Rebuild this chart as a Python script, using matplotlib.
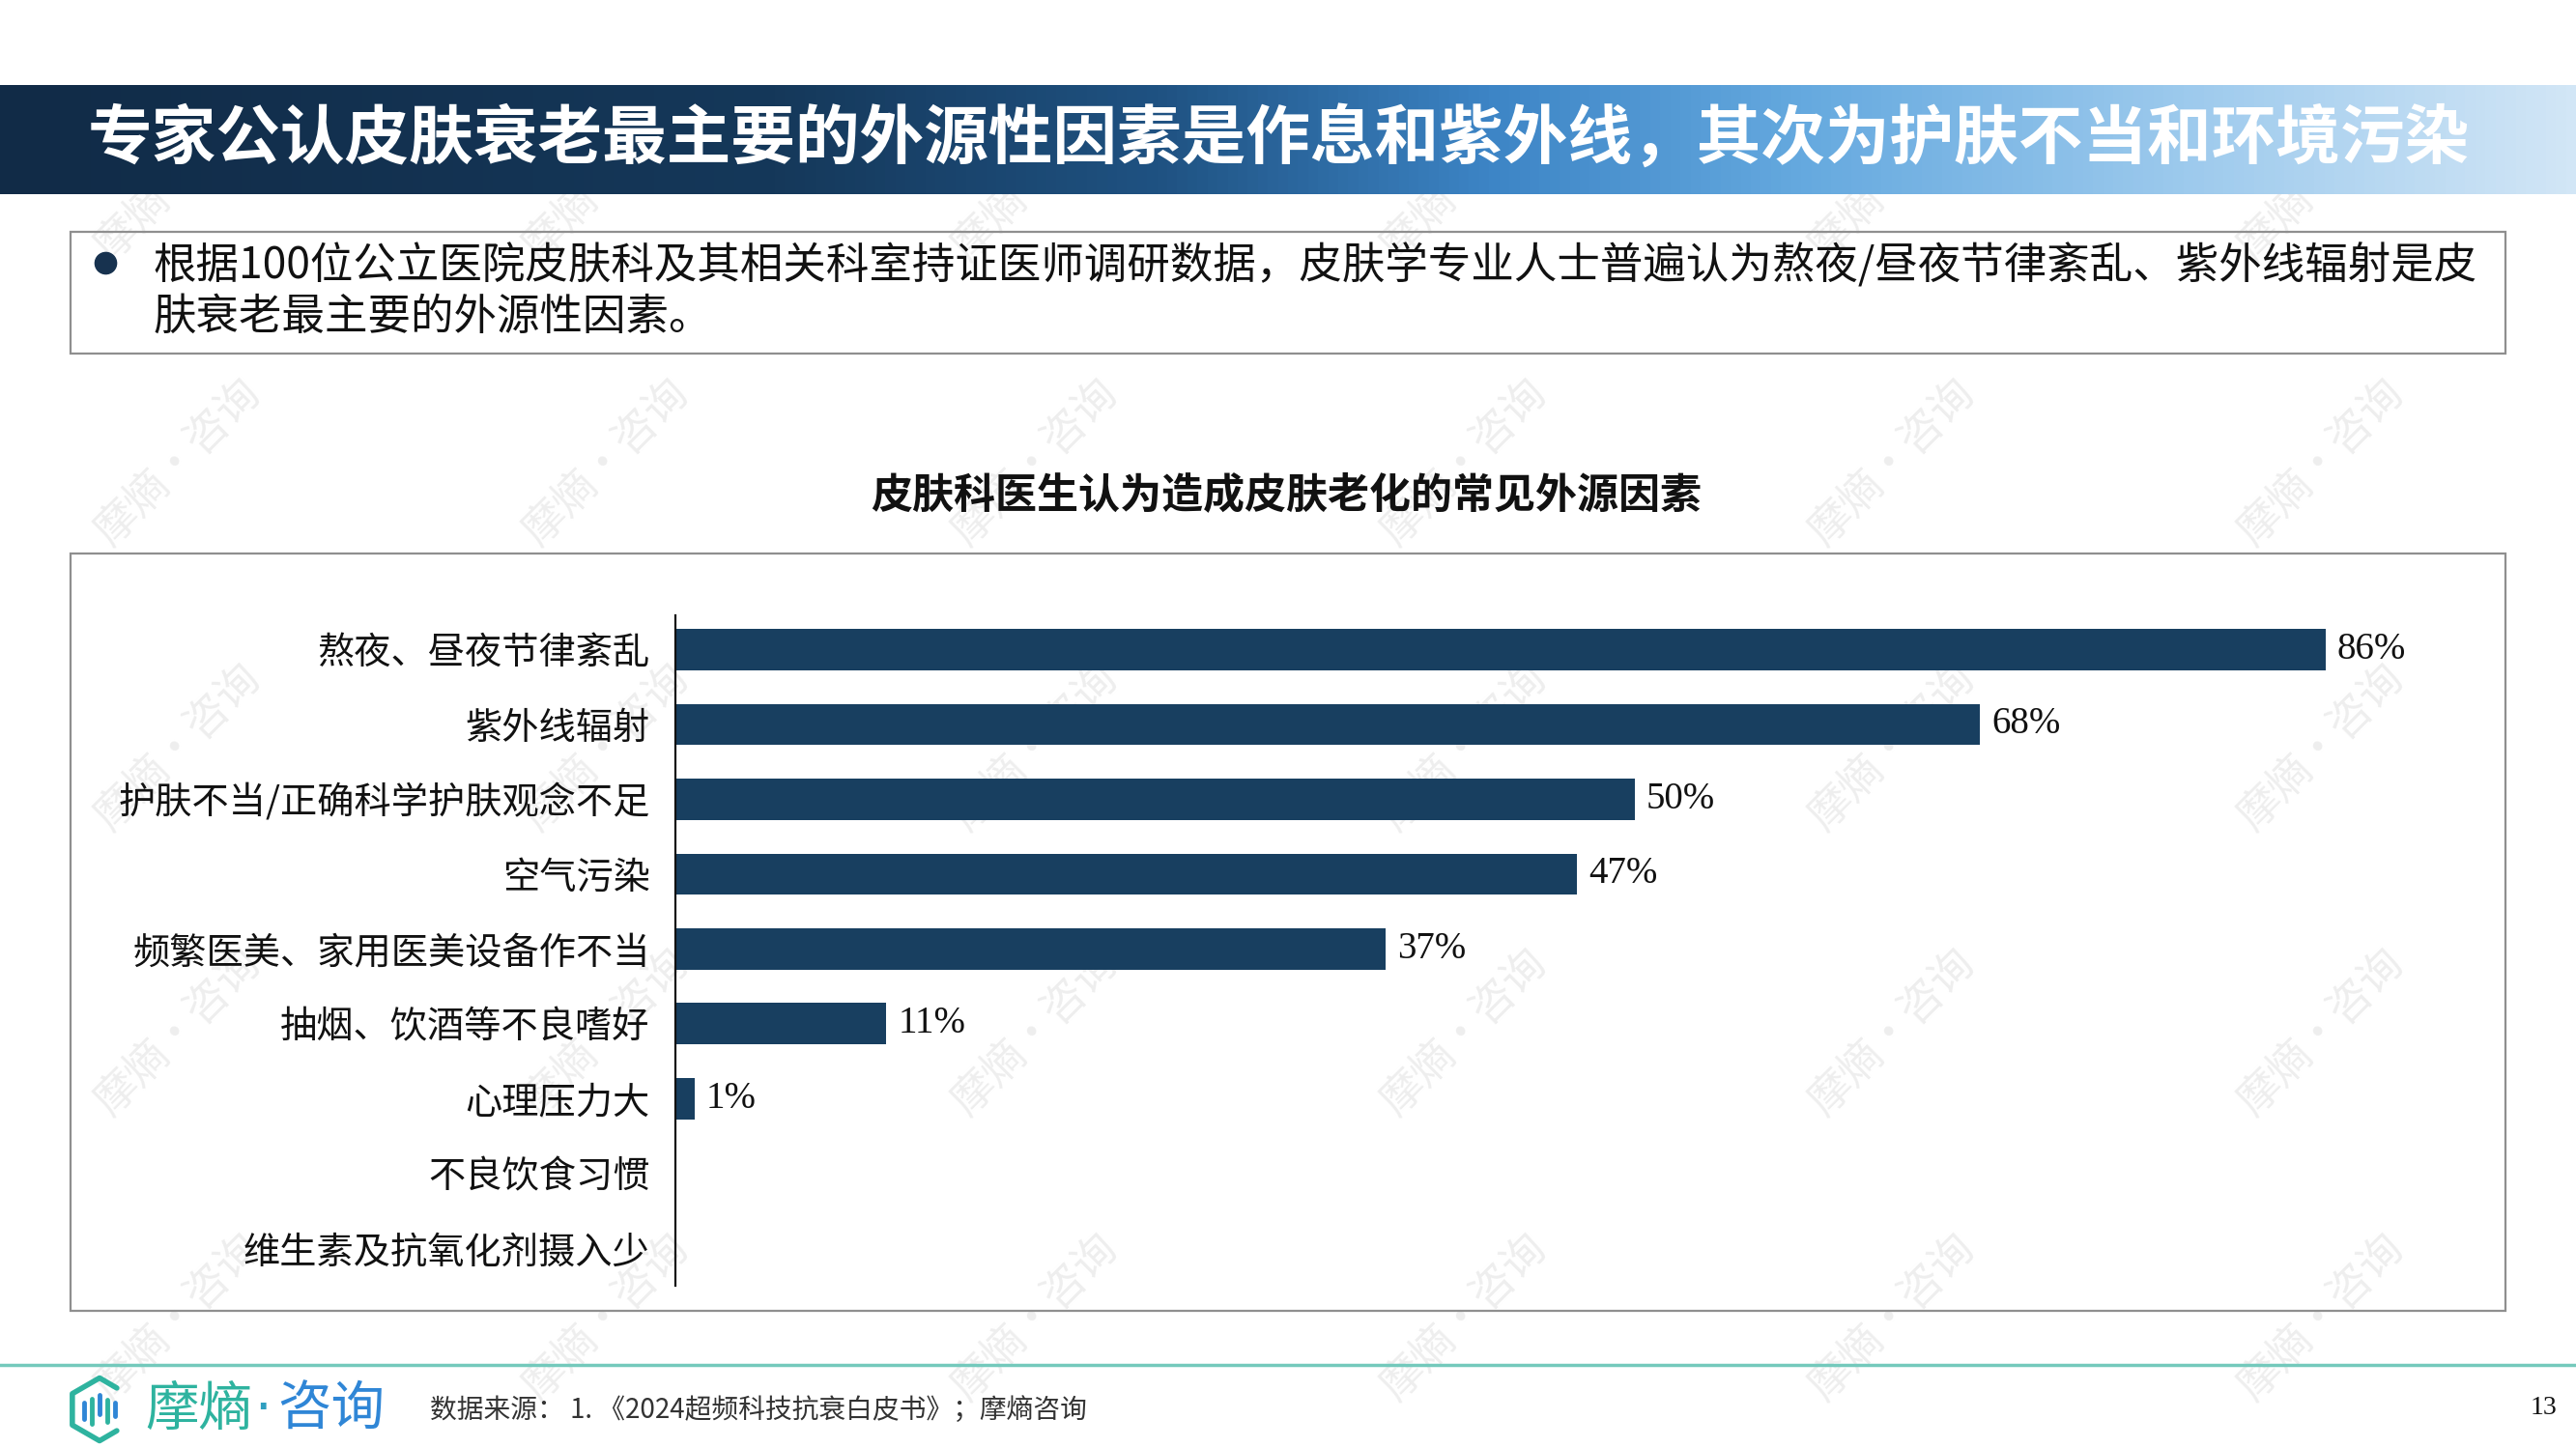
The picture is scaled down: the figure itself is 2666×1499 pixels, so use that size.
import numpy as np
import matplotlib
matplotlib.use('Agg')
import matplotlib.pyplot as plt
from matplotlib.colors import LinearSegmentedColormap
from matplotlib.patches import Rectangle
from matplotlib.lines import Line2D

plt.rcParams['font.family'] = ['Noto Sans CJK SC', 'DejaVu Sans']

# data
categories = ['熬夜、昼夜节律紊乱', '紫外线辐射', '护肤不当/正确科学护肤观念不足', '空气污染',
              '频繁医美、家用医美设备作不当', '抽烟、饮酒等不良嗜好', '心理压力大',
              '不良饮食习惯', '维生素及抗氧化剂摄入少']
values = [86, 68, 50, 47, 37, 11, 1, 0, 0]

page_title = '专家公认皮肤衰老最主要的外源性因素是作息和紫外线，其次为护肤不当和环境污染'
bullet_lines = ['根据100位公立医院皮肤科及其相关科室持证医师调研数据，皮肤学专业人士普遍认为熬夜/昼夜节律紊乱、紫外线辐射是皮',
                '肤衰老最主要的外源性因素。']
chart_title = '皮肤科医生认为造成皮肤老化的常见外源因素'
source_text = '数据来源： 1. 《2024超频科技抗衰白皮书》；摩熵咨询'
page_no = '13'

BAR = '#183f60'
W, H = 2666, 1499


def fx(x):
    return x / W


def fy(y):
    return 1 - y / H


fig = plt.figure(figsize=(W / 100, H / 100), dpi=100)
fig.patch.set_facecolor('white')

# watermarks
for wy in [183, 478, 773, 1068, 1363]:
    for wx in [184, 627, 1071, 1515, 1958, 2402]:
        fig.text(fx(wx), fy(wy), '摩熵·咨询', rotation=45, fontsize=32, color='#eeeeee',
                 ha='center', va='center', zorder=-5)

# title bar with gradient
ax_t = fig.add_axes([0, fy(201), 1, (201 - 88) / H])
cmap = LinearSegmentedColormap.from_list('tb', [(0, '#112b47'), (0.3, '#15385a'), (0.45, '#1f5282'),
                                                 (0.58, '#3d85c6'), (0.7, '#65a9df'), (0.85, '#9dcaed'),
                                                 (1.0, '#d2e6f6')])
ax_t.imshow(np.linspace(0, 1, 512).reshape(1, -1), aspect='auto', cmap=cmap, extent=[0, 1, 0, 1])
ax_t.set_axis_off()
fig.text(fx(1323), fy(144), page_title, color='white', fontsize=48, fontweight='bold',
         ha='center', va='center')

# bullet box
fig.add_artist(Rectangle((fx(73), fy(366)), fx(2593) - fx(73), (366 - 240) / H,
                         fill=False, ec='#8f8f8f', lw=1.6))
fig.add_artist(Line2D([fx(109)], [fy(272)], marker='o', markersize=16, color='#17324f'))
fig.text(fx(158), fy(275), bullet_lines[0], fontsize=32, color='#111111', va='center')
fig.text(fx(158), fy(328), bullet_lines[1], fontsize=32, color='#111111', va='center')

# chart title + box
fig.text(fx(1331), fy(512), chart_title, fontsize=31, fontweight='bold', color='#111111',
         ha='center', va='center')
fig.add_artist(Rectangle((fx(73), fy(1357)), fx(2593) - fx(73), (1357 - 573) / H,
                         fill=False, ec='#8f8f8f', lw=1.6))

# bar chart
xmax = 95
ax = fig.add_axes([fx(699), fy(1331), xmax * 19.86 / W, (1331 - 637.5) / H])
ax.set_facecolor('none')
y = np.arange(len(categories))
ax.barh(y, values, height=0.55, color=BAR)
for i, v in enumerate(values):
    if v > 0:
        ax.text(v + 0.6, i, f'{v}%', va='center', ha='left', fontsize=28,
                family=['Liberation Serif'], color='#111111')
ax.set_xlim(0, xmax)
ax.set_ylim(8.5, -0.45)
ax.set_yticks(y)
ax.set_yticklabels(categories, fontsize=27.5, color='#111111')
ax.tick_params(axis='y', length=0, pad=19)
ax.xaxis.set_visible(False)
for s in ['top', 'right', 'bottom']:
    ax.spines[s].set_visible(False)
ax.spines['left'].set_linewidth(1.6)
ax.spines['left'].set_color('#111111')

# footer
fig.add_artist(Line2D([0, 1], [fy(1413), fy(1413)], color='#74c9bc', lw=2.5))

ax_l = fig.add_axes([fx(64), fy(1499), (142 - 64) / W, (1499 - 1419) / H])
ax_l.set_xlim(-1.2, 1.2)
ax_l.set_ylim(-1.23, 1.23)
ax_l.set_axis_off()
ang = np.deg2rad([90, 150, 210, 270])
hx = [0.55] + list(np.cos(ang)) + [0.55]
hy = [0.68] + list(np.sin(ang)) + [-0.68]
ax_l.plot(hx, hy, color='#2eb39f', lw=4, solid_capstyle='round', solid_joinstyle='round')
bars_x = [-0.5, -0.25, 0.0, 0.25, 0.48]
bars_y = [(-0.3, 0.2), (-0.45, 0.35), (-0.15, 0.45), (-0.4, 0.3), (-0.2, 0.2)]
bars_c = ['#2f86d6', '#2eb39f', '#2f86d6', '#2eb39f', '#2f86d6']
for bx, (b0, b1), bc in zip(bars_x, bars_y, bars_c):
    ax_l.plot([bx, bx], [b0, b1], color=bc, lw=3.5, solid_capstyle='round')

fig.text(fx(150), fy(1460), '摩熵', fontsize=40, color='#2eb39f', va='center', ha='left')
fig.text(fx(263), fy(1460), '·', fontsize=40, color='#2f9fc0', va='center', ha='left',
         family=['DejaVu Sans'])
fig.text(fx(287), fy(1460), '咨询', fontsize=40, color='#2f86d6', va='center', ha='left')

fig.text(fx(445), fy(1460), source_text, fontsize=20, color='#333333', va='center', ha='left')
fig.text(fx(2632), fy(1457), page_no, fontsize=20, color='#111111', va='center', ha='center',
         family=['Liberation Serif'])

fig.savefig('out.png', dpi=100)
